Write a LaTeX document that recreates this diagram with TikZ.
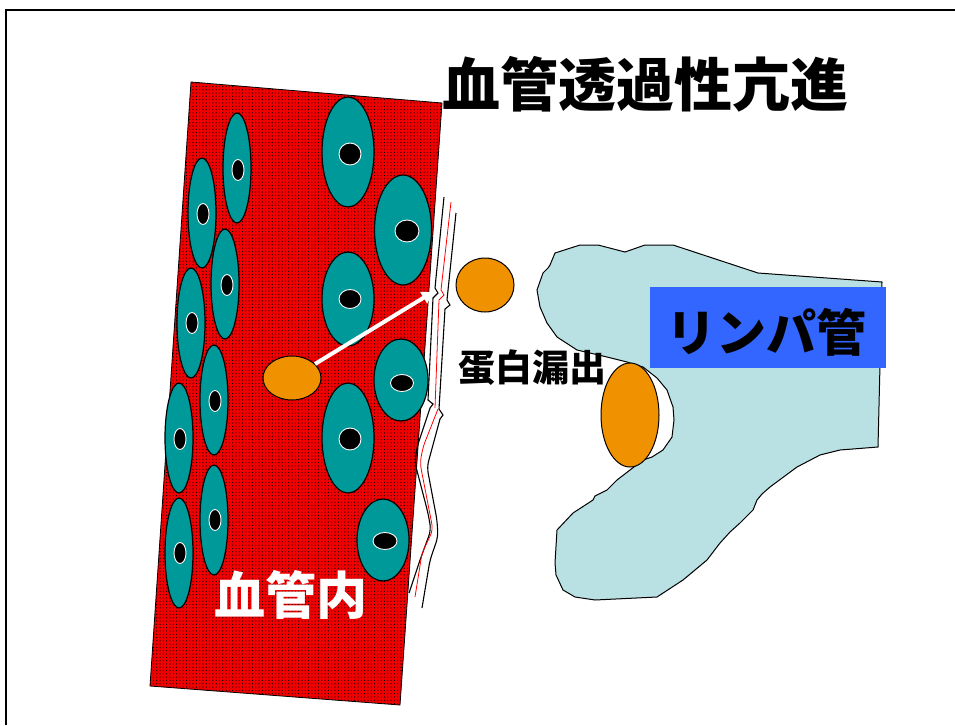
\documentclass[tikz,border=0pt]{standalone}
\usepackage{fontspec}
\newfontfamily\jp{Noto Sans CJK JP}
\usetikzlibrary{shapes.geometric,arrows.meta,patterns}
\definecolor{vesselred}{RGB}{240,0,0}
\definecolor{cellteal}{RGB}{0,153,153}
\definecolor{protein}{RGB}{240,146,0}
\definecolor{lymph}{RGB}{185,224,227}
\definecolor{labelblue}{RGB}{51,102,255}
% fine dot texture of the vessel lumen
\pgfdeclarepatternformonly{vesseldots}{\pgfpoint{-1pt}{-1pt}}{\pgfpoint{4pt}{4pt}}{\pgfpoint{3.3pt}{3.3pt}}{%
  \pgfpathcircle{\pgfpoint{1.65pt}{1.65pt}}{0.6pt}\pgfusepath{fill}}

\begin{document}
\begin{tikzpicture}[x=1pt,y=-1pt,
  cell/.style={ellipse, draw=black, line width=1.2pt, fill=cellteal, inner sep=0pt},
  nucleus/.style={ellipse, draw=white, line width=0.9pt, fill=black, inner sep=0pt},
  protein/.style={ellipse, draw=black, line width=1pt, fill=protein, inner sep=0pt},
  wall/.style={line width=1.1pt, line join=miter},
  walllight/.style={wall, red, line width=0.8pt},
  label/.style={font=\jp\bfseries, inner sep=0pt}]
\useasboundingbox (0,0) rectangle (955,725);

% slide frame
\draw[line width=2.5pt] (6,725) -- (6,10) -- (955,10);

% blood vessel
\draw[line width=0.8pt, fill=vesselred, postaction={pattern=vesseldots, pattern color=black}]
  (191,82) -- (442,103) -- (400,705) -- (150,686) -- cycle;

% endothelial cells with nuclei
\foreach \n/\cx/\cy/\w/\h/\nx/\ny/\nw/\nh in {
  1/237/168/28/110/238/170/12/21,
  2/202/213/28/110/203/214/12/21,
  3/225/284/28/110/227/285/12/21,
  4/191/323/28/110/192/323/12/21,
  5/214/400/28/110/215/401/12/21,
  6/179/438/28/110/180/439/12/21,
  7/214/520/28/110/215/520/12/21,
  8/179/553/28/110/180/553/12/21,
  9/348/152/52/110/350/154/22/22,
  10/403/230/57/110/407/231/24/22,
  11/348/299/52/94/350/299/22/19,
  12/401/380/54/82/402/383/23/17,
  13/348/438/52/110/350/439/22/22,
  14/383/540/52/82/385/541/24/17} {
  \node[cell, minimum width=\w, minimum height=\h] (cell\n) at (\cx,\cy) {};
  \node[nucleus, minimum width=\nw, minimum height=\nh] (nuc\n) at (\nx,\ny) {};
}

% protein inside the vessel and its path through the gap
\node[protein, minimum width=58, minimum height=44] (p1) at (292,378) {};
\coordinate (gap) at (433,292);
\draw[white, line width=4pt, -{Triangle[length=11pt,width=13pt]}] (p1) -- (gap);

% vessel wall, upper part
\draw[wall] (444,197) -- (435,288) -- (438,293) -- (433,298) -- (428,400) -- (433,404) -- (430,408);
\draw[walllight] (451,202) -- (441,290) -- (444,295) -- (439,300) -- (435,408);
\draw[wall] (456,213) -- (447,300) -- (450,305) -- (445,309) -- (439,409) -- (443,415) -- (440,419);
% vessel wall, lower part
\draw[wall, rounded corners=6pt] (430,408) -- (417,447) -- (415,463) -- (428,513) -- (431,530) -- (420,560) -- (409,593);
\draw[walllight, rounded corners=6pt] (438,409) -- (423,447) -- (420,463) -- (433,530) -- (422,553) -- (415,597);
\draw[wall, rounded corners=6pt] (440,419) -- (427,467) -- (437,520) -- (438,537) -- (430,560) -- (422,608);

% lymphatic vessel
\draw[line width=1pt, fill=lymph]
  (550,265) -- (555,253) -- (580,245) -- (598,245) -- (625,252) -- (645,245) -- (673,245)
  -- (758,273) -- (882,282) -- (878,447) -- (840,450) -- (820,455) -- (797,467)
  -- (770,487) -- (762,494) -- (757,500) -- (753,510) -- (740,523) -- (730,532) -- (720,543)
  -- (707,560) -- (695,570) -- (683,580) -- (657,597) -- (595,600) -- (575,597) -- (563,590)
  -- (556,575) -- (555,563) -- (557,530) -- (573,513) -- (593,500) -- (595,496) -- (607,490)
  -- (617,480) -- (630,470) -- (643,460) -- (652,457) -- (663,450) -- (672,437)
  -- (674,420) -- (673,407) -- (667,390) -- (657,378) -- (643,367) -- (627,362)
  -- (607,357) -- (577,350) -- (557,337) -- (547,323) -- (540,307) -- (537,290)
  -- (543,273) -- (548,268) -- cycle;

% leaked proteins
\node[protein, minimum width=58, minimum height=54] (p2) at (485,285) {};
\node[protein, minimum width=58, minimum height=104] (p3) at (630,415) {};

% labels
\node[label, font=\jp\bfseries\fontsize{58}{60}\selectfont] (title) at (645,84) {血管透過性亢進};
\node[label, font=\jp\bfseries\fontsize{37}{40}\selectfont] (leak) at (532,368) {蛋白漏出};
\node[label, white, font=\jp\bfseries\fontsize{51}{54}\selectfont] (lumen) at (291,595) {血管内};
\node[fill=labelblue, minimum width=236, minimum height=81, inner sep=0pt] (lymphbox) at (768,327.5) {};
\node[label, font=\jp\bfseries\fontsize{50}{54}\selectfont] (lymphlabel) at (766,332) {リンパ管};
\end{tikzpicture}
\end{document}
